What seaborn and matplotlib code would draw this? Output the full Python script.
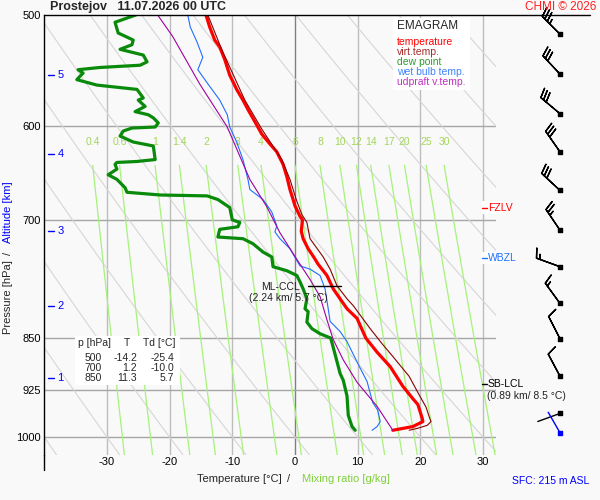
import numpy as np
import seaborn as sns
import matplotlib.pyplot as plt
from matplotlib.lines import Line2D
from matplotlib.patches import Rectangle
from matplotlib.ticker import NullLocator, FixedLocator

sns.set_theme(style='white')
plt.rcParams['font.family'] = ['Liberation Sans', 'DejaVu Sans']

temp_p = [500, 510, 521, 527, 538, 552, 565, 575, 584, 599, 608, 618, 626, 639, 652, 666, 677, 684,
          696, 700, 713, 722, 734, 743, 753, 767, 784, 797, 810, 823, 850, 870, 891, 920, 939, 948,
          970, 975, 983, 986, 989]
temp_t = [-14.2, -13.6, -12.8, -12.0, -11.2, -10.4, -9.3, -8.3, -7.5, -6.1, -5.3, -4.0, -2.9, -1.9,
          -1.3, -0.8, -0.3, 0.0, 0.8, 1.2, 1.0, 1.3, 2.1, 2.9, 3.7, 5.1, 6.1, 7.2, 8.3, 9.9, 11.3,
          13.1, 15.2, 17.2, 18.8, 19.6, 20.3, 20.4, 18.8, 17.2, 15.6]

tv_p = [500, 529, 575, 603, 634, 655, 677, 694, 703, 722, 744, 759, 780, 797, 806, 837, 858, 876,
        905, 933, 952, 970, 975, 981, 986, 989]
tv_t = [-13.9, -11.7, -8.0, -5.3, -2.1, -0.8, 0.2, 1.1, 1.9, 2.4, 4.5, 5.6, 6.7, 8.3, 9.3, 12.0,
        13.9, 15.6, 18.2, 19.8, 20.9, 21.5, 21.7, 21.1, 19.5, 18.2]

dew_p = [500, 506, 515, 521, 525, 529, 534, 540, 543, 545, 547, 550, 556, 561, 565, 573, 575, 581,
         586, 589, 592, 597, 601, 602, 605, 610, 616, 620, 634, 636, 637, 639, 644, 650, 655, 664,
         669, 672, 673, 677, 686, 700, 703, 708, 711, 720, 722, 728, 738, 744, 756, 761, 767, 775,
         784, 797, 810, 814, 828, 837, 844, 850, 863, 901, 911, 935, 965, 983, 989]
dew_t = [-25.4, -28.7, -28.2, -25.8, -26.0, -27.9, -24.2, -23.6, -24.7, -31.1, -34.6, -33.8, -34.8,
         -31.6, -25.2, -24.2, -25.0, -23.9, -25.5, -23.4, -22.6, -21.8, -22.3, -26.0, -27.4, -27.9,
         -25.8, -22.6, -22.3, -25.2, -28.4, -28.7, -28.4, -29.8, -28.4, -27.1, -26.8, -21.5, -14.0,
         -12.3, -10.4, -10.0, -8.8, -9.1, -12.0, -12.3, -8.3, -6.7, -5.1, -3.7, -3.5, -1.3, 0.3,
         0.8, 1.3, 1.9, 1.6, 2.1, 1.9, 2.7, 4.0, 5.7, 6.1, 7.2, 7.7, 8.3, 8.5, 9.1, 9.6]

wb_p = [500, 510, 523, 536, 547, 559, 575, 589, 601, 616, 634, 655, 666, 677, 691, 707, 714, 722,
        734, 755, 759, 767, 784, 810, 827, 841, 855, 884, 913, 945, 957, 975, 983, 989]
wb_t = [-17.1, -16.7, -15.6, -14.7, -15.5, -14.0, -12.0, -10.8, -10.4, -9.3, -8.3, -7.5, -7.2, -5.1,
        -3.7, -2.9, -3.2, -2.4, -0.8, 0.8, 2.4, 4.0, 4.8, 5.3, 5.6, 7.2, 8.3, 9.9, 11.5, 12.4, 13.2,
        13.6, 13.1, 12.3]

parcel_p = [989, 951, 914, 881, 852, 825, 794, 772, 747, 715, 685, 655, 601, 560, 518, 500]
parcel_t = [15.6, 13.1, 9.9, 7.7, 6.1, 5.1, 4.0, 2.4, 0.3, -2.4, -4.5, -7.2, -10.8, -15.2, -19.5, -21.9]

# wind barbs: pressure, direction [deg], speed [kt]
wind_p = [516, 551, 588, 626, 667, 712, 756, 803, 851, 905]
wind_dir = [315, 317, 310, 325, 313, 326, 290, 324, 333, 332]
wind_spd = [35, 30, 30, 30, 30, 25, 15, 15, 10, 10]
calm_p = [962, 993]
calm_dir = [250, 330]
calm_col = ['black', 'blue']

p_ticks = [500, 600, 700, 850, 925, 1000]
t_ticks = [-30, -20, -10, 0, 10, 20, 30]
alt_km = [5, 4, 3, 2, 1]
alt_p = [552, 628, 713, 806, 908]
mix_ratios = [0.4, 0.6, 1, 1.4, 2, 3, 4, 6, 8, 10, 12, 14, 17, 20, 25, 30]
theta_levels = list(range(-40, 110, 10))

table_p = ['500', '700', '850']
table_t = ['-14.2', '1.2', '11.3']
table_td = ['-25.4', '-10.0', '5.7']

BG = '#f9f9f9'
W_PX, H_PX = 600, 500


def fx(x):
    return x / W_PX


def fy(y):
    return 1 - y / H_PX


fig = plt.figure(figsize=(6, 5), dpi=100, facecolor=BG)
ax_l, ax_r, ax_t, ax_b = 44.2, 495.6, 15, 455
ax = fig.add_axes([fx(ax_l), fy(ax_b), (ax_r - ax_l) / W_PX, (ax_b - ax_t) / H_PX])
ax.set_facecolor(BG)
ax.set_yscale('log')
ax.set_xlim(-40, 32)
ax.set_ylim(1030, 500)

# background: isotherms, isobars, dry adiabats, mixing ratio lines
for t in t_ticks:
    ax.axvline(t, color='#808080' if t == 0 else '#bdbdbd', lw=1.0, zorder=1)
for p in p_ticks[1:]:
    ax.axhline(p, color='#a6a6a6', lw=1.0, zorder=1)

pp = np.linspace(500, 1030, 80)
for th in theta_levels:
    ta = (th + 273.15) * (pp / 1000.0) ** 0.2857 - 273.15
    ax.plot(ta, pp, color='#d6d6d6', lw=0.8, zorder=1)

pm = np.linspace(640, 1030, 40)
for w in mix_ratios:
    e = w * pm / (622.0 + w)
    a = np.log(e / 6.112)
    td = 243.5 * a / (17.67 - a)
    ax.plot(td, pm, color='#a6f27a', lw=0.9, zorder=1.5)
    ax.text(td[0], 616, f'{w:g}', color='#a3d65a', fontsize=7.5, ha='center', va='center')

# profiles
sns.lineplot(x=tv_t, y=tv_p, sort=False, estimator=None, color='#8b0000', lw=0.8, ax=ax, zorder=4)
sns.lineplot(x=temp_t, y=temp_p, sort=False, estimator=None, color='#ff0000', lw=2.3, ax=ax, zorder=3)
sns.lineplot(x=dew_t, y=dew_p, sort=False, estimator=None, color='#0a8a0a', lw=2.3, ax=ax, zorder=3)
sns.lineplot(x=wb_t, y=wb_p, sort=False, estimator=None, color='#1f6fff', lw=0.8, ax=ax, zorder=4)
sns.lineplot(x=parcel_t, y=parcel_p, sort=False, estimator=None, color='#a000a0', lw=0.8, ax=ax, zorder=4)

# axes styling
for side in ['top', 'right', 'bottom']:
    ax.spines[side].set_visible(False)
ax.spines['left'].set_color('black')
ax.spines['left'].set_linewidth(1.0)
ax.yaxis.set_major_locator(FixedLocator(p_ticks))
ax.yaxis.set_minor_locator(NullLocator())
ax.set_yticklabels([str(p) for p in p_ticks])
ax.set_xticks(t_ticks)
ax.set_xticklabels([str(t) for t in t_ticks])
ax.tick_params(axis='both', length=0, labelsize=8, colors='black')
ax.tick_params(axis='y', pad=2.5)
ax.tick_params(axis='x', pad=1.5)
ax.set_xlabel('')
ax.set_ylabel('')
fig.add_artist(Line2D([fx(44), fx(590)], [fy(15), fy(15)], color='black', lw=1.0))
fig.add_artist(Line2D([fx(ax_l), fx(ax_l)], [fy(ax_b), fy(470)], color='black', lw=1.0))

# altitude ticks
for km, p in zip(alt_km, alt_p):
    ax.plot([-39.4, -38.5], [p, p], color='#0000ff', lw=1.0, zorder=5)
    ax.text(-37.9, p, str(km), color='#0000ff', fontsize=8, ha='left', va='center')

# level annotations
ax.plot([2.0, 7.3], [780, 780], color='black', lw=1.0, zorder=5)
ax.text(0.8, 782, 'ML-CCL', fontsize=7.5, color='#222222', ha='right', va='center', zorder=6)
ax.text(-1.0, 796, '(2.24 km/ 5.7 °C)', fontsize=7.5, color='#222222', ha='center', va='center', zorder=6)

for p, lab, col in [(686, 'FZLV', '#ff0000'), (745, 'WBZL', '#1f6fff'), (917, 'SB-LCL', 'black')]:
    if lab != 'SB-LCL':
        ax.text(29.8, p, '       ', fontsize=7.5, va='center', zorder=4,
                bbox=dict(facecolor='white', edgecolor='none', pad=0.8))
    ax.plot([29.9, 30.6], [p, p], color=col, lw=1.0, zorder=5, clip_on=False)
    ax.text(30.8, p, lab, color=col, fontsize=7.5, ha='left', va='center', zorder=6)
ax.text(36.9, 935, '(0.89 km/ 8.5 °C)', fontsize=7.5, color='#222222', ha='center', va='center')

# data table
fig.add_artist(Rectangle((fx(75), fy(385)), (180 - 75) / W_PX, (385 - 336) / H_PX,
                         transform=fig.transFigure, facecolor='white', edgecolor='none', zorder=5))
fig.text(fx(78), fy(343), 'p [hPa]', fontsize=7.5, va='center', zorder=6)
fig.text(fx(127), fy(343), 'T', fontsize=7.5, va='center', ha='center', zorder=6)
fig.text(fx(143), fy(343), 'Td [°C]', fontsize=7.5, va='center', zorder=6)
for i, (a, b, c) in enumerate(zip(table_p, table_t, table_td)):
    yy = 358 + 10 * i
    fig.text(fx(102), fy(yy), a, fontsize=7.5, ha='right', va='center', zorder=6)
    fig.text(fx(137), fy(yy), b, fontsize=7.5, ha='right', va='center', zorder=6)
    fig.text(fx(174), fy(yy), c, fontsize=7.5, ha='right', va='center', zorder=6)

# legend box
fig.add_artist(Rectangle((fx(393), fy(90)), (470 - 393) / W_PX, (90 - 18) / H_PX,
                         transform=fig.transFigure, facecolor='white', edgecolor='none', zorder=5))
fig.text(fx(397), fy(26), 'EMAGRAM', fontsize=8.5, va='center', zorder=6)
legend_items = [('temperature', '#ff0000'), ('virt.temp.', '#a52a2a'), ('dew point', '#2e9b2e'),
                ('wet bulb temp.', '#3c82ff'), ('udpraft v.temp.', '#c030c0')]
for i, (lab, col) in enumerate(legend_items):
    fig.text(fx(397), fy(42 + 10 * i), lab, color=col, fontsize=7.5, va='center', zorder=6)

# titles and axis labels
fig.text(fx(50), fy(7), 'Prostejov   11.07.2026 00 UTC', fontsize=9, fontweight='bold', va='center')
fig.text(fx(596), fy(7), 'CHMI © 2026', fontsize=8.5, color='#ff2020', ha='right', va='center')
fig.text(fx(197), fy(479), 'Temperature [°C]', fontsize=8, va='center')
fig.text(fx(287), fy(479), '/', fontsize=8, va='center')
fig.text(fx(302), fy(479), 'Mixing ratio [g/kg]', fontsize=8, color='#7fd03c', va='center')
fig.text(fx(512), fy(481), 'SFC: 215 m ASL', fontsize=7.5, color='#0000ff', va='center')
fig.text(fx(8), fy(297), 'Pressure [hPa]', fontsize=8, rotation=90, ha='center', va='center')
fig.text(fx(8), fy(253), '/', fontsize=8, rotation=90, ha='center', va='center')
fig.text(fx(8), fy(212), 'Altitude [km]', fontsize=8, color='#0000ff', rotation=90, ha='center', va='center')

# wind barbs
axw = fig.add_axes([fx(500), fy(ax_b), 100 / W_PX, (ax_b - ax_t) / H_PX])
axw.set_yscale('log')
axw.set_ylim(1030, 500)
axw.set_xlim(0, 100)
axw.axis('off')
d = np.deg2rad(wind_dir)
u = -np.array(wind_spd) * np.sin(d)
v = -np.array(wind_spd) * np.cos(d)
axw.barbs(np.full(len(wind_p), 60.0), wind_p, u, v, length=6, lw=1.0, color='black',
          sizes=dict(spacing=0.14, height=0.38), clip_on=False)
axw.scatter(np.full(len(wind_p), 60.0), wind_p, marker='s', s=5, color='black', zorder=5)
for p, wd, col in zip(calm_p, calm_dir, calm_col):
    r = np.deg2rad(wd)
    axw.annotate('', xy=(60, p), xytext=(17 * np.sin(r), 17 * np.cos(r)), textcoords='offset points',
                 arrowprops=dict(arrowstyle='-', color=col, lw=1.0, shrinkA=0, shrinkB=0))
    axw.scatter([60], [p], marker='s', s=5, color=col, zorder=5)

fig.savefig('out.png', dpi=100, facecolor=BG)
